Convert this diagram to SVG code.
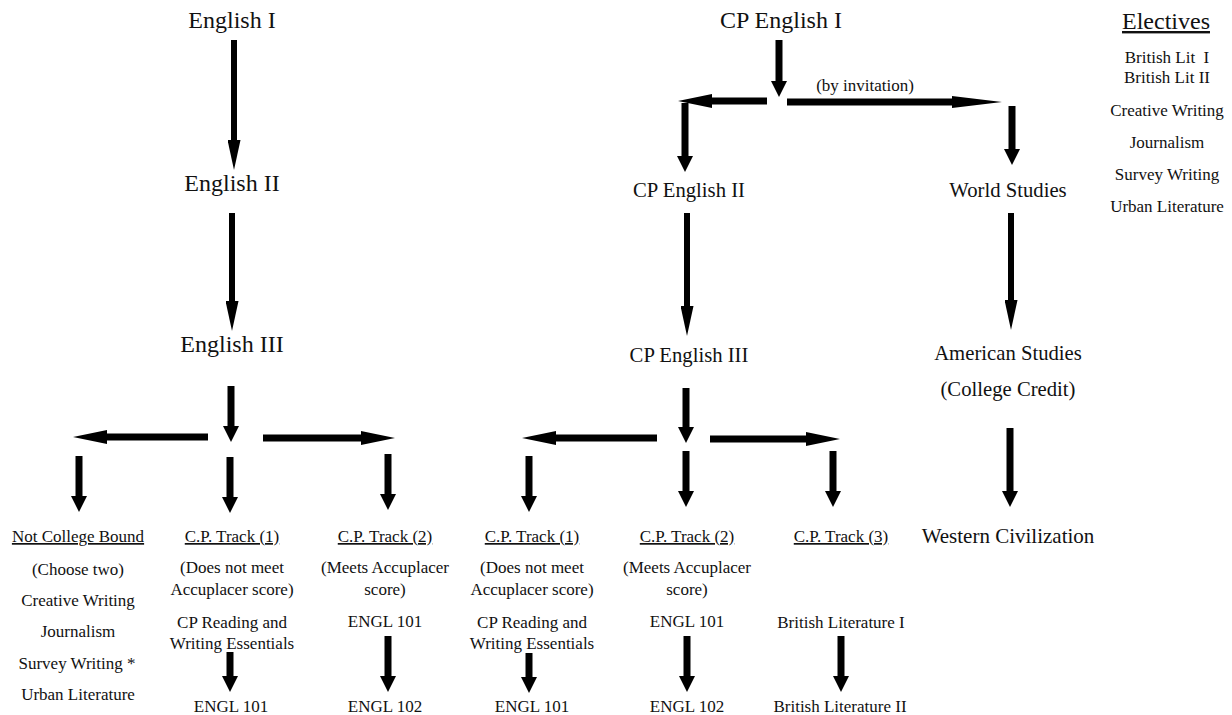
<svg xmlns="http://www.w3.org/2000/svg" width="1232" height="715" viewBox="0 0 1232 715">
<style>
text{font-family:"Liberation Serif","Times New Roman",serif;fill:#111;text-anchor:middle}
.t24{font-size:24px}
.t20{font-size:20.7px}
.t21{font-size:21px}
.t17{font-size:17px}
.t14{font-size:17px}
.u{text-decoration:underline}
.c line{stroke:#000;fill:none}
.w6{stroke-width:6}
.w7{stroke-width:7}
</style>
<defs>
<marker id="hA" markerUnits="userSpaceOnUse" viewBox="0 0 16 16" markerWidth="16" markerHeight="16" refX="0" refY="8" orient="auto"><path d="M0,0 L16,8 L0,16 Z" fill="#000"/></marker>
<marker id="hB" markerUnits="userSpaceOnUse" viewBox="0 0 30 13" markerWidth="30" markerHeight="13" refX="0" refY="6.5" orient="auto"><path d="M0,0 L30,6.5 L0,13 Z" fill="#000"/></marker>
<marker id="hC" markerUnits="userSpaceOnUse" viewBox="0 0 34 14" markerWidth="34" markerHeight="14" refX="0" refY="7" orient="auto"><path d="M0,0 L34,7 L0,14 Z" fill="#000"/></marker>
<marker id="hD" markerUnits="userSpaceOnUse" viewBox="0 0 50 12" markerWidth="50" markerHeight="12" refX="0" refY="6" orient="auto"><path d="M0,0 L50,6 L0,12 Z" fill="#000"/></marker>
</defs>

<g id="connectors" class="c">
<line class="w6" x1="234" y1="40" x2="234" y2="140" marker-end="url(#hB)"/>
<line class="w6" x1="232" y1="213" x2="232" y2="301" marker-end="url(#hB)"/>
<line class="w7" x1="231" y1="386" x2="231" y2="426" marker-end="url(#hA)"/>
<line class="w7" x1="208" y1="437" x2="107" y2="437" marker-end="url(#hC)"/>
<line class="w7" x1="263" y1="438" x2="361" y2="438" marker-end="url(#hC)"/>
<line class="w7" x1="79" y1="456" x2="79" y2="496" marker-end="url(#hA)"/>
<line class="w7" x1="230" y1="457" x2="230" y2="497" marker-end="url(#hA)"/>
<line class="w7" x1="388" y1="454" x2="388" y2="494" marker-end="url(#hA)"/>
<line class="w7" x1="230" y1="652" x2="230" y2="676" marker-end="url(#hA)"/>
<line class="w7" x1="388" y1="636" x2="388" y2="676" marker-end="url(#hA)"/>

<line class="w7" x1="779" y1="40" x2="779" y2="81" marker-end="url(#hA)"/>
<line class="w7" x1="767" y1="101" x2="712" y2="101" marker-end="url(#hC)"/>
<line class="w7" x1="787" y1="102" x2="952" y2="102" marker-end="url(#hD)"/>
<line class="w7" x1="685" y1="103" x2="685" y2="156" marker-end="url(#hA)"/>
<line class="w7" x1="1012" y1="106" x2="1012" y2="149" marker-end="url(#hA)"/>
<line class="w6" x1="687" y1="213" x2="687" y2="306" marker-end="url(#hB)"/>
<line class="w7" x1="686" y1="388" x2="686" y2="427" marker-end="url(#hA)"/>
<line class="w7" x1="657" y1="438" x2="556" y2="438" marker-end="url(#hC)"/>
<line class="w7" x1="710" y1="439" x2="806" y2="439" marker-end="url(#hC)"/>
<line class="w7" x1="529" y1="456" x2="529" y2="496" marker-end="url(#hA)"/>
<line class="w7" x1="686" y1="451" x2="686" y2="491" marker-end="url(#hA)"/>
<line class="w7" x1="833" y1="451" x2="833" y2="491" marker-end="url(#hA)"/>
<line class="w7" x1="529" y1="653" x2="529" y2="677" marker-end="url(#hA)"/>
<line class="w7" x1="687" y1="636" x2="687" y2="676" marker-end="url(#hA)"/>
<line class="w7" x1="841" y1="636" x2="841" y2="676" marker-end="url(#hA)"/>

<line class="w6" x1="1011" y1="213" x2="1011" y2="300" marker-end="url(#hB)"/>
<line class="w7" x1="1010" y1="428" x2="1010" y2="491" marker-end="url(#hA)"/>
</g>

<g id="english1"><text class="t24" x="232" y="28">English I</text></g>
<g id="english2"><text class="t24" x="232" y="191">English II</text></g>
<g id="english3"><text class="t24" x="232" y="352">English III</text></g>

<g id="notCollegeBound">
<text class="t17 u" x="78" y="542">Not College Bound</text>
<text class="t17" x="78" y="575">(Choose two)</text>
<text class="t17" x="78" y="606">Creative Writing</text>
<text class="t17" x="78" y="637">Journalism</text>
<text class="t17" x="77" y="669">Survey Writing *</text>
<text class="t17" x="78" y="700">Urban Literature</text>
</g>
<g id="cpTrack1a">
<text class="t17 u" x="232" y="542">C.P. Track (1)</text>
<text class="t17" x="232" y="573">(Does not meet</text>
<text class="t17" x="232" y="595">Accuplacer score)</text>
<text class="t17" x="232" y="628">CP Reading and</text>
<text class="t17" x="232" y="649">Writing Essentials</text>
</g>
<g id="engl101a"><text class="t17" x="231" y="712">ENGL 101</text></g>
<g id="cpTrack2a">
<text class="t17 u" x="385" y="542">C.P. Track (2)</text>
<text class="t17" x="385" y="573">(Meets Accuplacer</text>
<text class="t17" x="385" y="595">score)</text>
<text class="t17" x="385" y="627">ENGL 101</text>
</g>
<g id="engl102a"><text class="t17" x="385" y="712">ENGL 102</text></g>

<g id="cpEnglish1"><text class="t24" x="781" y="28">CP English I</text></g>
<g id="invitation"><text class="t14" x="865" y="91">(by invitation)</text></g>
<g id="cpEnglish2"><text class="t20" x="689" y="197">CP English II</text></g>
<g id="cpEnglish3"><text class="t20" x="689" y="362">CP English III</text></g>

<g id="cpTrack1b">
<text class="t17 u" x="532" y="542">C.P. Track (1)</text>
<text class="t17" x="532" y="573">(Does not meet</text>
<text class="t17" x="532" y="595">Accuplacer score)</text>
<text class="t17" x="532" y="628">CP Reading and</text>
<text class="t17" x="532" y="649">Writing Essentials</text>
</g>
<g id="engl101b"><text class="t17" x="532" y="712">ENGL 101</text></g>
<g id="cpTrack2b">
<text class="t17 u" x="687" y="542">C.P. Track (2)</text>
<text class="t17" x="687" y="573">(Meets Accuplacer</text>
<text class="t17" x="687" y="595">score)</text>
<text class="t17" x="687" y="627">ENGL 101</text>
</g>
<g id="engl102b"><text class="t17" x="687" y="712">ENGL 102</text></g>
<g id="cpTrack3">
<text class="t17 u" x="841" y="542">C.P. Track (3)</text>
<text class="t17" x="841" y="628">British Literature I</text>
</g>
<g id="britLit2"><text class="t17" x="840" y="712">British Literature II</text></g>

<g id="worldStudies"><text class="t20" x="1008" y="197">World Studies</text></g>
<g id="americanStudies">
<text class="t20" x="1008" y="360">American Studies</text>
<text class="t20" x="1008" y="396">(College Credit)</text>
</g>
<g id="westernCiv"><text class="t21" x="1008" y="543">Western Civilization</text></g>

<g id="electives">
<text class="t24 u" x="1166" y="29">Electives</text>
<text class="t17" x="1167" y="63" xml:space="preserve">British Lit  I</text>
<text class="t17" x="1167" y="83">British Lit II</text>
<text class="t17" x="1167" y="116">Creative Writing</text>
<text class="t17" x="1167" y="148">Journalism</text>
<text class="t17" x="1167" y="180">Survey Writing</text>
<text class="t17" x="1167" y="212">Urban Literature</text>
</g>
</svg>
